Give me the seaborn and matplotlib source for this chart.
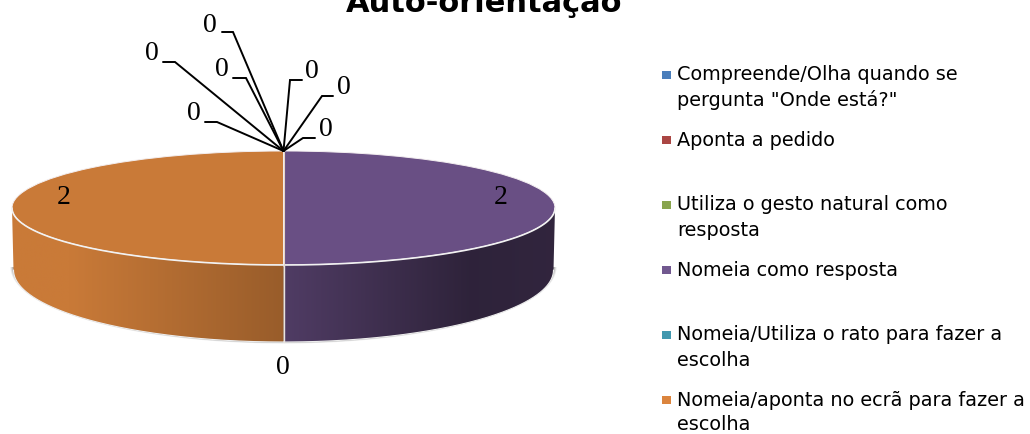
import numpy as np
import matplotlib
matplotlib.use("Agg")
import matplotlib.pyplot as plt
from matplotlib.patches import Polygon
import seaborn as sns

# data, clockwise from 12 o'clock. only 6 of the 10 categories are in the legend
categories = ["Compreende/Olha quando se\npergunta \"Onde está?\"",
              "Aponta a pedido",
              "Utiliza o gesto natural como\nresposta",
              "Nomeia como resposta",
              "Nomeia/Utiliza o rato para fazer a\nescolha",
              "Nomeia/aponta no ecrã para fazer a\nescolha"]
values = [0, 0, 0, 2, 0, 2, 0, 0, 0, 0]
legend_colors = ["#4A7EBB", "#AA4643", "#89A54E", "#71588F", "#4198AF", "#DB843D"]
slice_colors = ["#4A7EBB", "#AA4643", "#89A54E", "#694F84", "#4198AF", "#C97A38",
                "#2C4D75", "#772C2A", "#5F7530", "#4D3B62"]
title = "Auto-orientação"

# layout in pixels
W, H = 1030, 434
cx, top_cy, top_a, top_b = 283.5, 208, 271.5, 57
bot_cy, bot_a, bot_b = 270, 270, 72
legend_rows = [75, 140, 205, 270, 335, 400]
# zero labels with a leader: label x, label y, stub end x, elbow x, elbow y
leaders = [(312, 72, 302, 290, 80), (344, 88, 333, 322, 96), (326, 130, 315, 303, 138),
           (194, 114, 205, 217, 122), (152, 54, 163, 175, 62), (222, 70, 233, 246, 78),
           (210, 25, 222, 233, 32)]
plain_labels = [(501, 198, "2"), (283, 368, "0"), (64, 198, "2")]

sns.set_theme(style="white")
fig = plt.figure(figsize=(W / 100, H / 100), dpi=100)
fig.patch.set_facecolor("white")


def px_axes(left, top, width, height, **kw):
    return fig.add_axes([left / W, 1 - (top + height) / H, width / W, height / H], **kw)


# top face of the pie, squashed to an ellipse
pie_ax = px_axes(cx - top_a, top_cy - top_b, 2 * top_a, 2 * top_b)
pie_ax.pie(values, colors=slice_colors, startangle=90, counterclock=False, radius=1,
           wedgeprops={"edgecolor": "#F3EEF0", "linewidth": 0.7})
pie_ax.set_aspect("auto")
pie_ax.set_xlim(-1, 1)
pie_ax.set_ylim(-1, 1)
pie_ax.set_zorder(2)
pie_ax.patch.set_alpha(0)

ax = px_axes(0, 0, W, H)
ax.set_xlim(0, W)
ax.set_ylim(H, 0)
ax.axis("off")
ax.set_zorder(3)
ax.patch.set_alpha(0)


def shade(x):
    return np.interp(x, [12, 70, 283, 470, 555], [1.0, 1.0, 0.76, 0.44, 0.47])


# soft shadow under the wall, lower half only
t = np.radians(np.linspace(90, 270, 300))
for pad, alpha in [(3.0, 0.14), (2.0, 0.22), (1.0, 0.32)]:
    arc = np.column_stack([cx + (bot_a + pad) * np.sin(t),
                           bot_cy - 3 - (bot_b + 3 + pad * 0.5) * np.cos(t)])
    ax.add_patch(Polygon(arc, closed=True, facecolor="#6E6E6E", edgecolor="none",
                         alpha=alpha, zorder=1))

# side wall of each slice
share = np.cumsum([0] + values) / sum(values) * 360
for i, v in enumerate(values):
    t0, t1 = max(share[i], 90), min(share[i + 1], 270)
    if v == 0 or t0 >= t1:
        continue
    ts = np.radians(np.linspace(t0, t1, 200))
    upper = np.column_stack([cx + top_a * np.sin(ts), top_cy - top_b * np.cos(ts)])
    lower = np.column_stack([cx + bot_a * np.sin(ts), bot_cy - bot_b * np.cos(ts)])
    ring = np.vstack([upper, lower[::-1]])
    xs = np.linspace(ring[:, 0].min(), ring[:, 0].max(), 300)
    rgb = np.array(matplotlib.colors.to_rgb(slice_colors[i]))
    grad = (rgb[None, None, :] * shade(xs)[None, :, None]).clip(0, 1)
    im = ax.imshow(grad, extent=[xs[0], xs[-1], ring[:, 1].max(), ring[:, 1].min()],
                   aspect="auto", zorder=2, interpolation="bilinear")
    im.set_clip_path(Polygon(ring, transform=ax.transData))
    ax.plot(lower[:, 0], lower[:, 1], color="#EDEDED", lw=0.8, zorder=3)
ax.set_xlim(0, W)
ax.set_ylim(H, 0)

# white rim and the seam between slices
ax.plot(cx + top_a * np.sin(t), top_cy - top_b * np.cos(t), color="#F2F2F2", lw=1.2, zorder=4)
ax.plot([cx, cx], [top_cy + top_b, bot_cy + bot_b], color="#E9E4E0", lw=1.0, zorder=4)
ax.plot([cx, cx], [top_cy - top_b, top_cy + top_b], color="#E6D5C8", lw=0.8, zorder=4)

# data labels
serif = {"family": "Liberation Serif", "fontsize": 20, "color": "black",
         "ha": "center", "va": "center"}
for lx, ly, stub, ex, ey in leaders:
    ax.plot([stub, ex, cx], [ey, ey, top_cy - top_b], color="black", lw=1.4, zorder=5,
            solid_joinstyle="miter")
    ax.text(lx, ly, "0", **serif)
for lx, ly, s in plain_labels:
    ax.text(lx, ly, s, **serif)

# legend
sns.scatterplot(x=[666.5] * len(categories), y=legend_rows, hue=categories,
                palette=legend_colors, marker="s", s=36, linewidth=0, legend=False, ax=ax, zorder=5)
for row, label in zip(legend_rows, categories):
    for j, line in enumerate(label.split("\n")):
        ax.text(677, row + 25 * j, line, family="DejaVu Sans", fontsize=13.9, color="black",
                ha="left", va="center")

# the title is cut by the top edge in the reference as well
ax.text(484, 12, title, family="DejaVu Sans", fontsize=22, fontweight="bold", color="black",
        ha="center", va="baseline")
ax.set_xlim(0, W)
ax.set_ylim(H, 0)
ax.axis("off")

fig.savefig("out.png", dpi=100, facecolor="white")
